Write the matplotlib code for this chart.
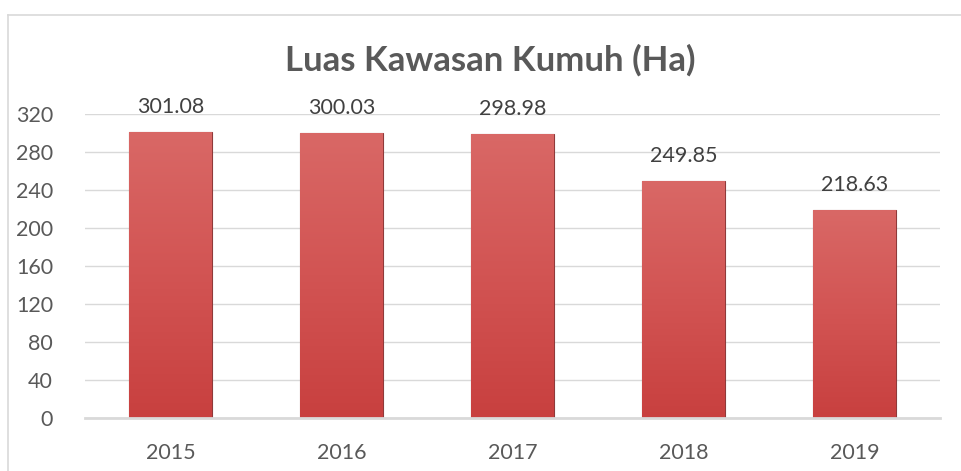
import numpy as np
import matplotlib
matplotlib.use('Agg')
from matplotlib import pyplot as plt
from matplotlib.lines import Line2D
from matplotlib.colors import LinearSegmentedColormap

years = ['2015', '2016', '2017', '2018', '2019']
luas = [301.08, 300.03, 298.98, 249.85, 218.63]
yticks = [0, 40, 80, 120, 160, 200, 240, 280, 320]

plt.rcParams['font.family'] = ['Lato', 'DejaVu Sans']

W, H = 962, 471
fig = plt.figure(figsize=(W/100, H/100), dpi=100)
ax = fig.add_axes([85/W, 1 - 418/H, 855/W, 304/H])

x = np.arange(len(years))
bars = ax.bar(x, luas, width=0.485, color='#d0504f', edgecolor='#8f3a3a',
              linewidth=0.8, zorder=3)

# vertical gradient inside each bar
cmap = LinearSegmentedColormap.from_list('red', ['#c8403f', '#d25453', '#d96866'])
grad = np.linspace(0, 1, 256).reshape(-1, 1)
for b in bars:
    x0, y0 = b.get_x(), b.get_y()
    im = ax.imshow(grad, cmap=cmap, origin='lower', aspect='auto',
                   extent=[x0, x0 + b.get_width(), y0, y0 + b.get_height()],
                   zorder=3.5)
    im.set_clip_path(b)

for xi, v in zip(x, luas):
    ax.annotate(f'{v:.2f}', (xi, v), xytext=(0, 18), textcoords='offset points',
                ha='center', va='center', fontsize=15.5, color='#404040')

ax.set_xlim(-0.5, len(years) - 0.5)
ax.set_ylim(0, 320)
ax.set_yticks(yticks)
ax.set_xticks(x)
ax.set_xticklabels(years)
ax.tick_params(axis='both', length=0, labelsize=15.5, labelcolor='#595959')
ax.tick_params(axis='y', pad=23)
ax.tick_params(axis='x', pad=18)
ax.grid(axis='y', color='#d9d9d9', linewidth=1, zorder=0)
for s in ['top', 'right', 'left']:
    ax.spines[s].set_visible(False)
ax.spines['bottom'].set_color('#d9d9d9')
ax.spines['bottom'].set_linewidth(2)
ax.spines['bottom'].set_zorder(4)

fig.text(490/W, 1 - 60/H, 'Luas Kawasan Kumuh (Ha)', ha='center', va='center',
         fontsize=25, fontweight='bold', color='#595959')

# chart border
fig.add_artist(Line2D([8/W, 8/W], [0, 1 - 15/H], color='#d9d9d9', linewidth=1.2))
fig.add_artist(Line2D([8/W, 1], [1 - 15/H, 1 - 15/H], color='#d9d9d9', linewidth=1.2))

fig.savefig('out.png', dpi=100)
